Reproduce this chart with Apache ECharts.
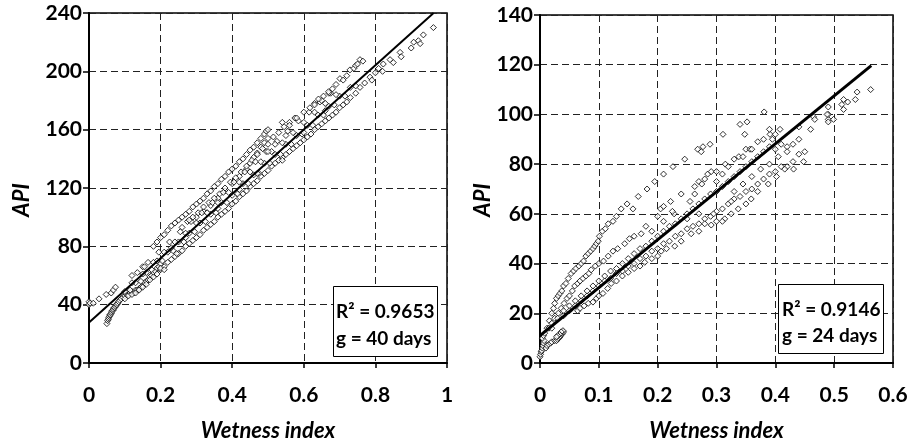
<!DOCTYPE html>
<html>
<head>
<meta charset="utf-8">
<script src="https://cdn.jsdelivr.net/npm/echarts@6/dist/echarts.min.js"></script>
<style>
html,body{margin:0;padding:0;background:#fff;}
#chart{width:907px;height:445px;}
</style>
</head>
<body>
<div id="chart"></div>
<script>
// ---------- DATA ----------
var leftXTicks = ['0', '0.2', '0.4', '0.6', '0.8', '1'];
var leftYTicks = ['0', '40', '80', '120', '160', '200', '240'];
var rightXTicks = ['0', '0.1', '0.2', '0.3', '0.4', '0.5', '0.6'];
var rightYTicks = ['0', '20', '40', '60', '80', '100', '120', '140'];

var xAxisTitle = 'Wetness index';
var yAxisTitle = 'API';
var leftStats = ['R² = 0.9653', 'g = 40 days'];
var rightStats = ['R² = 0.9146', 'g = 24 days'];

// regression lines (x, API)
var leftFit = [[0, 27.8], [0.9625, 240]];
var rightFit = [[0, 11], [0.563, 119.6]];

// left panel, g = 40 days
var leftStart = [[0,40],[0,42],[0.003,41],[0.012,41],[0.028,44],[0.048,47],[0.062,48],[0.068,50],[0.074,52]];
var leftSteep = [[0.05,27],[0.052,29],[0.054,30],[0.055,31],[0.057,32],[0.058,33],[0.06,33],[0.062,34],[0.063,35],[0.065,36],[0.067,36],[0.068,37],[0.07,38],[0.072,38],[0.074,39],[0.076,40],[0.078,40],[0.08,41],[0.083,42],[0.086,43],[0.09,44],[0.095,45],[0.1,46],[0.105,47],[0.11,47],[0.115,48],[0.12,49],[0.125,48],[0.13,50],[0.135,50],[0.14,51],[0.145,52],[0.15,53],[0.155,55],[0.16,56],[0.165,57],[0.17,59],[0.175,60],[0.18,62],[0.185,63],[0.19,65],[0.195,66],[0.2,68]];
var leftUpper = [[0.18,80],[0.19,83],[0.2,86],[0.21,88],[0.22,91],[0.23,94],[0.24,96],[0.25,98],[0.26,100],[0.27,102],[0.28,104],[0.29,107],[0.3,109],[0.31,111],[0.32,113],[0.33,116],[0.34,118],[0.35,121],[0.36,123],[0.37,126],[0.38,128],[0.39,131],[0.4,133],[0.41,135],[0.42,138],[0.43,140],[0.44,143],[0.45,146],[0.46,148],[0.47,151],[0.48,154],[0.49,157],[0.495,159],[0.5,160]];
var leftUpper2 = [[0.3,100],[0.32,104],[0.34,108],[0.36,113],[0.38,118],[0.4,123],[0.42,128],[0.44,133],[0.45,137],[0.46,141],[0.47,144],[0.48,148],[0.49,151],[0.5,154]];
var leftMid = [[0.26,93],[0.275,97],[0.29,100],[0.305,103],[0.32,107],[0.335,110],[0.35,113],[0.365,116],[0.38,120],[0.395,124],[0.41,127],[0.425,131],[0.44,135],[0.455,139],[0.47,143],[0.485,147],[0.5,150],[0.515,155],[0.53,158],[0.545,162],[0.56,165],[0.575,168]];
var leftBandLow = [[0.1,44],[0.11,46],[0.12,47],[0.13,48],[0.14,50],[0.15,52],[0.16,54],[0.17,57],[0.18,59],[0.19,61],[0.2,64],[0.21,66],[0.22,69],[0.23,71],[0.24,73],[0.25,75],[0.26,77],[0.27,80],[0.28,82],[0.29,84],[0.3,86],[0.31,88],[0.32,91],[0.33,93],[0.34,95],[0.35,97],[0.36,100],[0.37,102],[0.38,104],[0.39,106],[0.4,109],[0.41,111],[0.42,114],[0.43,116],[0.44,118],[0.45,121],[0.46,123],[0.47,125],[0.48,128],[0.49,130],[0.5,132],[0.51,135],[0.52,137],[0.53,139],[0.54,141],[0.55,143],[0.56,145],[0.57,147],[0.58,149],[0.59,151],[0.6,153],[0.61,155],[0.62,157],[0.63,160],[0.64,162],[0.65,164],[0.66,166],[0.67,168],[0.68,170],[0.69,172],[0.7,175],[0.71,177],[0.72,179],[0.73,182],[0.745,185],[0.757,189]];
var leftBandMid = [[0.1,49],[0.115,50],[0.13,55],[0.145,56],[0.16,62],[0.175,64],[0.19,70],[0.205,70],[0.22,76],[0.235,77],[0.25,83],[0.265,83],[0.28,89],[0.295,90],[0.31,96],[0.325,97],[0.34,102],[0.355,103],[0.37,110],[0.385,110],[0.4,115],[0.415,116],[0.43,123],[0.445,123],[0.46,129],[0.475,130],[0.49,137],[0.505,137],[0.52,143],[0.535,143],[0.55,150],[0.565,150],[0.58,156],[0.595,157],[0.61,163],[0.625,163],[0.64,170],[0.655,170],[0.67,176],[0.685,177],[0.7,183],[0.715,183],[0.73,189],[0.745,190]];
var leftBandHigh = [[0.12,55],[0.135,62],[0.15,61],[0.165,69],[0.18,69],[0.195,76],[0.21,76],[0.225,83],[0.24,83],[0.255,90],[0.27,89],[0.285,97],[0.3,96],[0.315,103],[0.33,103],[0.345,110],[0.36,110],[0.375,117],[0.39,117],[0.405,124],[0.42,124],[0.435,131],[0.45,131],[0.465,138],[0.48,138],[0.495,145],[0.51,145],[0.525,152],[0.54,151],[0.555,159],[0.57,158],[0.585,166],[0.6,165],[0.615,172],[0.63,172],[0.645,179],[0.66,178],[0.675,185],[0.69,184]];
var leftScatter = [[0.12,60],[0.15,66],[0.155,66],[0.2,65],[0.21,64],[0.245,75],[0.28,98],[0.33,103],[0.47,130],[0.54,139],[0.54,165],[0.56,163],[0.58,168],[0.6,172],[0.63,178],[0.65,180],[0.67,185],[0.52,150],[0.55,156],[0.5,145],[0.36,106],[0.42,119],[0.27,86],[0.23,79],[0.6,158],[0.66,173]];
var leftUpperRight = [[0.617,175],[0.63,177],[0.641,181],[0.655,183],[0.669,186],[0.68,188],[0.69,191],[0.701,195],[0.71,194],[0.72,197],[0.729,201],[0.74,202],[0.745,204],[0.75,205],[0.757,208],[0.765,207]];
var leftLowerRight = [[0.77,192],[0.785,196],[0.79,194],[0.8,199],[0.809,202],[0.82,200],[0.822,205],[0.841,208],[0.85,206],[0.869,213],[0.872,210],[0.9,216],[0.907,220],[0.92,221],[0.925,219],[0.934,225],[0.962,230]];

// right panel, g = 24 days
var rightOrigin = [[0,2.5],[0.001,3.5],[0.002,4.5],[0.003,5],[0.004,6],[0.005,7],[0.006,8],[0.007,9],[0.004,10],[0.006,11],[0.008,12],[0.01,6],[0.012,7],[0.015,7.5],[0.018,8],[0.02,8.5],[0.025,9],[0.028,9],[0.03,9.5],[0.032,10],[0.034,10.5],[0.035,11],[0.037,11.5],[0.038,12],[0.04,12.5],[0.039,13],[0.036,12.5],[0.033,11.5],[0.03,11],[0.028,10.5]];
var rightTop = [[0.012,14],[0.016,17],[0.02,20],[0.023,22],[0.025,24],[0.028,26],[0.031,27],[0.034,28],[0.037,29],[0.04,31],[0.044,32],[0.048,34],[0.053,36],[0.057,37],[0.061,38],[0.066,39],[0.07,40],[0.074,41],[0.078,43],[0.082,44],[0.086,45],[0.09,46],[0.093,47],[0.096,48],[0.099,49],[0.101,51],[0.106,53],[0.111,54],[0.116,56],[0.124,57],[0.13,59],[0.138,62],[0.148,64],[0.158,62],[0.167,67],[0.182,70],[0.195,73],[0.21,76],[0.226,79],[0.246,82],[0.268,86],[0.274,85],[0.277,87],[0.289,88],[0.311,92],[0.34,96],[0.348,92],[0.352,97],[0.381,101]];
var rightSecond = [[0.015,14],[0.02,16],[0.025,18],[0.031,20],[0.036,22],[0.041,24],[0.046,26],[0.05,27],[0.055,29],[0.059,31],[0.064,32],[0.068,33],[0.073,34],[0.078,35],[0.083,36],[0.087,37.5],[0.094,39],[0.1,40],[0.108,41],[0.116,43],[0.124,45],[0.132,46],[0.144,48],[0.152,50],[0.16,51],[0.172,52],[0.18,55],[0.19,53],[0.2,59],[0.205,62],[0.21,63],[0.222,65],[0.228,60],[0.24,68],[0.255,65],[0.263,71],[0.27,73],[0.28,74],[0.285,76],[0.291,77],[0.3,73],[0.31,76],[0.315,80],[0.33,82],[0.338,83],[0.35,86],[0.357,86],[0.37,89],[0.38,90],[0.391,92],[0.4,92],[0.408,94]];
var rightMid = [[0.02,14],[0.03,18],[0.04,21],[0.05,23],[0.06,25],[0.07,27],[0.08,29],[0.09,31],[0.1,33],[0.11,35],[0.12,37],[0.13,38],[0.14,40],[0.15,42],[0.16,44],[0.17,46],[0.18,47],[0.19,49],[0.2,51],[0.21,53],[0.22,55],[0.23,56],[0.24,58],[0.25,60],[0.26,62],[0.27,64],[0.28,66],[0.29,68],[0.3,69],[0.31,71],[0.32,73],[0.33,75],[0.34,77],[0.35,79],[0.36,81],[0.37,83],[0.38,85],[0.39,87],[0.4,86],[0.41,88],[0.42,87],[0.44,90],[0.44,95],[0.465,99],[0.49,98],[0.49,100],[0.49,103]];
var rightLow = [[0.04,19],[0.05,21],[0.06,23],[0.07,25],[0.08,27],[0.09,29],[0.1,31],[0.11,33],[0.12,34],[0.13,36],[0.14,37],[0.15,39],[0.16,40],[0.17,42],[0.18,43],[0.19,45],[0.2,46],[0.21,48],[0.22,49],[0.23,51],[0.24,52],[0.25,54],[0.26,55],[0.27,56],[0.28,58],[0.29,59],[0.3,61],[0.31,62],[0.32,64],[0.33,66],[0.34,67],[0.35,69],[0.36,70],[0.37,72],[0.38,74],[0.39,76],[0.4,77],[0.41,79],[0.42,79],[0.43,81],[0.44,84]];
var rightBottom = [[0.064,21],[0.068,22],[0.075,23],[0.082,24],[0.09,24.5],[0.096,26],[0.1,27],[0.107,28],[0.115,30],[0.121,32],[0.13,33],[0.14,35],[0.15,36.5],[0.16,38],[0.17,39],[0.178,40.5],[0.19,42],[0.2,43],[0.206,45],[0.215,46],[0.229,47],[0.24,49],[0.257,52],[0.27,53],[0.291,55.5],[0.3,57],[0.314,58],[0.325,60],[0.337,62],[0.35,64],[0.359,66],[0.37,69],[0.388,72],[0.402,75],[0.416,78],[0.431,78],[0.448,81],[0.45,85]];
var rightEnd = [[0.46,94],[0.467,98],[0.488,100],[0.49,97],[0.499,98],[0.513,104],[0.516,106],[0.516,102],[0.523,105],[0.536,106],[0.539,109],[0.562,110]];
var rightScatter = [[0.31,57],[0.28,56],[0.295,60],[0.325,65],[0.33,69],[0.345,72],[0.36,75],[0.375,78],[0.39,80],[0.405,83],[0.42,85],[0.43,88],[0.395,90],[0.39,94],[0.36,86],[0.345,83],[0.32,79],[0.3,77],[0.275,72],[0.263,68],[0.225,61],[0.25,58],[0.27,60],[0.21,57]];

// ---------- CHART ----------
var FONT = 'Lato';
var TICK_FS = 21;
var TITLE_FS = 22;
var leftPoints = [].concat(leftStart, leftSteep, leftUpper, leftUpper2, leftMid, leftBandLow, leftBandMid, leftBandHigh, leftScatter, leftUpperRight, leftLowerRight);
var rightPoints = [].concat(rightOrigin, rightTop, rightSecond, rightMid, rightLow, rightBottom, rightEnd, rightScatter);

function tickFmt(arr, step) {
  return function (v) { var i = Math.round(v / step); return arr[i] !== undefined ? arr[i] : ''; };
}
function xAxisCfg(grid, max, step, ticks) {
  return {
    type: 'value', gridIndex: grid, min: 0, max: max, interval: step,
    name: xAxisTitle, nameLocation: 'middle', nameGap: 57,
    nameTextStyle: { fontFamily: FONT, fontWeight: 'bold', fontStyle: 'italic', fontSize: TITLE_FS, color: '#000' },
    axisLine: { show: true, onZero: false, lineStyle: { color: '#000', width: 2 } },
    axisTick: { show: true, inside: false, length: 5, lineStyle: { color: '#000', width: 1.5 } },
    axisLabel: { show: true, margin: 22, fontFamily: FONT, fontWeight: 'bold', fontSize: TICK_FS, color: '#000',
      formatter: tickFmt(ticks, step), showMinLabel: true, showMaxLabel: true, hideOverlap: false },
    splitLine: { show: true, lineStyle: { color: '#222', width: 1, type: [7, 4] } }
  };
}
function yAxisCfg(grid, max, step, ticks) {
  return {
    type: 'value', gridIndex: grid, min: 0, max: max, interval: step,
    axisLine: { show: true, onZero: false, lineStyle: { color: '#000', width: 2 } },
    axisTick: { show: true, inside: false, length: 6, lineStyle: { color: '#000', width: 1.5 } },
    axisLabel: { show: true, margin: 7, fontFamily: FONT, fontWeight: 'bold', fontSize: TICK_FS, color: '#000',
      formatter: tickFmt(ticks, step), showMinLabel: true, showMaxLabel: true, hideOverlap: false },
    splitLine: { show: true, lineStyle: { color: '#222', width: 1, type: [7, 4] } }
  };
}
var markerStyle = { color: '#fff', borderColor: '#000', borderWidth: 1 };

var chart = echarts.init(document.getElementById('chart'), null, { renderer: 'canvas' });
chart.setOption({
  animation: false,
  backgroundColor: '#fff',
  grid: [
    { left: 89, top: 13, width: 358, height: 350, show: true, borderColor: '#000', borderWidth: 1.5, backgroundColor: 'transparent', outerBoundsMode: 'none' },
    { left: 540, top: 15, width: 353, height: 348, show: true, borderColor: '#000', borderWidth: 1.5, backgroundColor: 'transparent', outerBoundsMode: 'none' }
  ],
  xAxis: [xAxisCfg(0, 1, 0.2, leftXTicks), xAxisCfg(1, 0.6, 0.1, rightXTicks)],
  yAxis: [yAxisCfg(0, 240, 40, leftYTicks), yAxisCfg(1, 140, 20, rightYTicks)],
  series: [
    { type: 'scatter', xAxisIndex: 0, yAxisIndex: 0, data: leftPoints, symbol: 'diamond', symbolSize: 6, itemStyle: markerStyle, z: 3 },
    { type: 'line', xAxisIndex: 0, yAxisIndex: 0, data: leftFit, symbol: 'none', lineStyle: { color: '#000', width: 2 }, z: 4 },
    { type: 'scatter', xAxisIndex: 1, yAxisIndex: 1, data: rightPoints, symbol: 'diamond', symbolSize: 6, itemStyle: markerStyle, z: 3 },
    { type: 'line', xAxisIndex: 1, yAxisIndex: 1, data: rightFit, symbol: 'none', lineStyle: { color: '#000', width: 3 }, z: 4 }
  ],
  graphic: [
    { type: 'text', x: 22, y: 200, rotation: Math.PI / 2, z: 10,
      style: { text: yAxisTitle, font: 'italic bold ' + TITLE_FS + 'px ' + FONT, fill: '#000', align: 'center', verticalAlign: 'middle' } },
    { type: 'text', x: 483, y: 200, rotation: Math.PI / 2, z: 10,
      style: { text: yAxisTitle, font: 'italic bold ' + TITLE_FS + 'px ' + FONT, fill: '#000', align: 'center', verticalAlign: 'middle' } },
    { type: 'rect', z: 10, shape: { x: 333.5, y: 286.5, width: 104, height: 70 }, style: { fill: '#fff', stroke: '#000', lineWidth: 1 } },
    { type: 'text', z: 11, x: 336, y: 311.5, style: { text: leftStats[0], font: 'bold 19px ' + FONT, fill: '#000', align: 'left', verticalAlign: 'middle' } },
    { type: 'text', z: 11, x: 336, y: 338.5, style: { text: leftStats[1], font: 'bold 19px ' + FONT, fill: '#000', align: 'left', verticalAlign: 'middle' } },
    { type: 'rect', z: 10, shape: { x: 778.5, y: 284.5, width: 105, height: 69 }, style: { fill: '#fff', stroke: '#000', lineWidth: 1 } },
    { type: 'text', z: 11, x: 782, y: 309.5, style: { text: rightStats[0], font: 'bold 19px ' + FONT, fill: '#000', align: 'left', verticalAlign: 'middle' } },
    { type: 'text', z: 11, x: 782, y: 335.5, style: { text: rightStats[1], font: 'bold 19px ' + FONT, fill: '#000', align: 'left', verticalAlign: 'middle' } }
  ]
});
</script>
</body>
</html>
